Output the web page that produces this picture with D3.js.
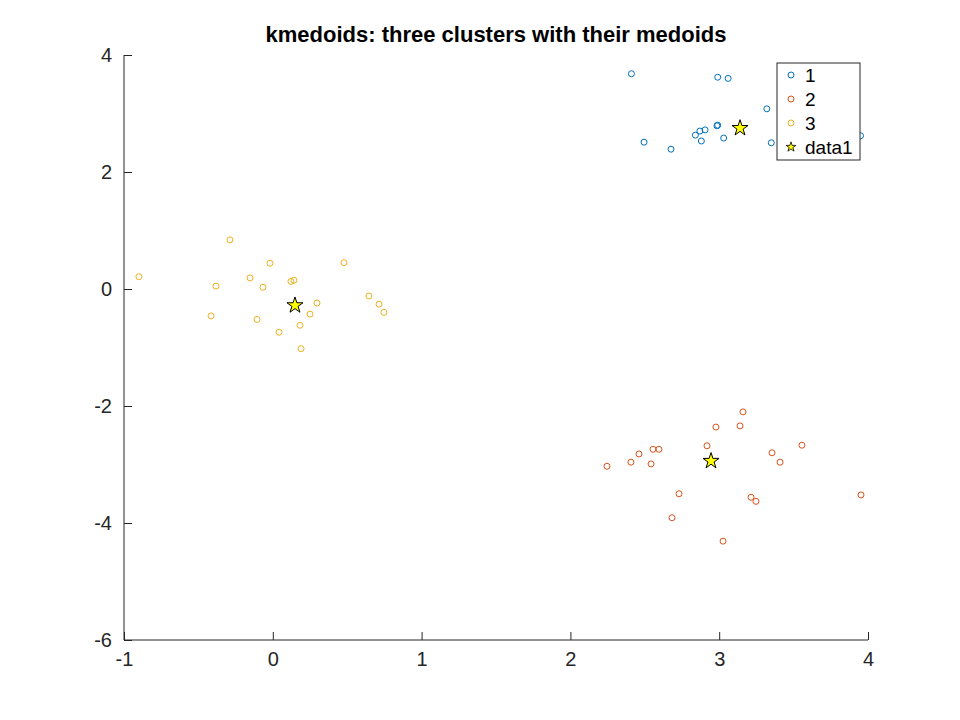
<!DOCTYPE html><html><head><meta charset="utf-8"><script src="https://cdn.jsdelivr.net/npm/d3@7"></script>
<style>body{margin:0;background:#fff}</style></head><body><svg id="c" width="960" height="720"></svg>
<script>
const c1x=[2.41,2.99,3.06,3.32,2.985,2.99,2.87,2.905,2.84,2.88,2.495,2.676,3.03,3.35,3.95];
const c1y=[3.68,3.62,3.60,3.08,2.79,2.80,2.70,2.72,2.63,2.53,2.51,2.39,2.58,2.50,2.62];
const c2x=[3.16,2.978,3.14,2.918,2.555,2.595,2.461,2.407,2.246,2.542,3.355,3.409,3.556,2.73,3.214,3.247,3.953,2.683,3.026];
const c2y=[-2.10,-2.36,-2.34,-2.68,-2.74,-2.74,-2.82,-2.96,-3.03,-2.99,-2.80,-2.96,-2.67,-3.50,-3.56,-3.63,-3.52,-3.91,-4.31];
const c3x=[-0.288,-0.90,-0.019,0.478,-0.153,-0.382,-0.066,0.122,0.142,0.646,0.714,0.747,0.297,0.25,0.183,0.042,-0.106,-0.415,0.19];
const c3y=[0.84,0.21,0.44,0.45,0.19,0.05,0.03,0.13,0.15,-0.12,-0.26,-0.40,-0.24,-0.43,-0.62,-0.74,-0.52,-0.46,-1.02];
const medX=[3.14,0.149,2.945];
const medY=[2.75,-0.28,-2.94];
const xTicks=[-1,0,1,2,3,4], yTicks=[4,2,0,-2,-4,-6];
const legendLabels=["1","2","3","data1"];
const colors=["#0072BD","#D95319","#EDB120"];
const svg=d3.select("#c");
const x=d3.scaleLinear().domain([-1,4]).range([124,868]);
const y=d3.scaleLinear().domain([-6,4]).range([640,55]);
const font="Liberation Sans, Arial, sans-serif";
const fmt=d=>String(d);
const xa=svg.append("g").attr("transform","translate(0,640)").call(d3.axisBottom(x).tickValues(xTicks).tickSize(-8).tickPadding(12).tickFormat(fmt));
const ya=svg.append("g").attr("transform","translate(124,0)").call(d3.axisLeft(y).tickValues(yTicks).tickSize(-8).tickPadding(12).tickFormat(fmt));
[xa,ya].forEach(a=>{a.selectAll("path,line").attr("stroke","#262626");a.select(".domain").attr("d",a===xa?"M124,0H868":"M0,55V640");a.selectAll("text").attr("font-family",font).attr("font-size",20).attr("fill","#262626");});
const sets=[[c1x,c1y],[c2x,c2y],[c3x,c3y]];
sets.forEach((s,i)=>{svg.append("g").selectAll("circle").data(s[0]).join("circle").attr("cx",d=>x(d)).attr("cy",(d,j)=>y(s[1][j])).attr("r",3).attr("fill","none").attr("stroke",colors[i]).attr("stroke-width",1);});
const star=d3.symbol().type(d3.symbolStar);
svg.append("g").selectAll("path").data(medX).join("path").attr("d",star.size(80)).attr("transform",(d,i)=>`translate(${x(d)},${y(medY[i])})`).attr("fill","#ffff00").attr("stroke","#000").attr("stroke-width",1);
svg.append("text").attr("x",496).attr("y",42).attr("text-anchor","middle").attr("font-family",font).attr("font-weight","bold").attr("font-size",22).text("kmedoids: three clusters with their medoids");
const lg=svg.append("g");
lg.append("rect").attr("x",777).attr("y",63).attr("width",83).attr("height",97).attr("fill","#fff").attr("stroke","#262626");
legendLabels.forEach((t,i)=>{const yy=75+i*24;
 if(i<3) lg.append("circle").attr("cx",791).attr("cy",yy).attr("r",3).attr("fill","none").attr("stroke",colors[i]);
 else lg.append("path").attr("d",star.size(30)).attr("transform",`translate(791,${yy})`).attr("fill","#ffff00").attr("stroke","#000").attr("stroke-width",0.8);
 lg.append("text").attr("x",805).attr("y",yy+7).attr("font-family",font).attr("font-size",19).attr("fill","#000").text(t);});
</script></body></html>
